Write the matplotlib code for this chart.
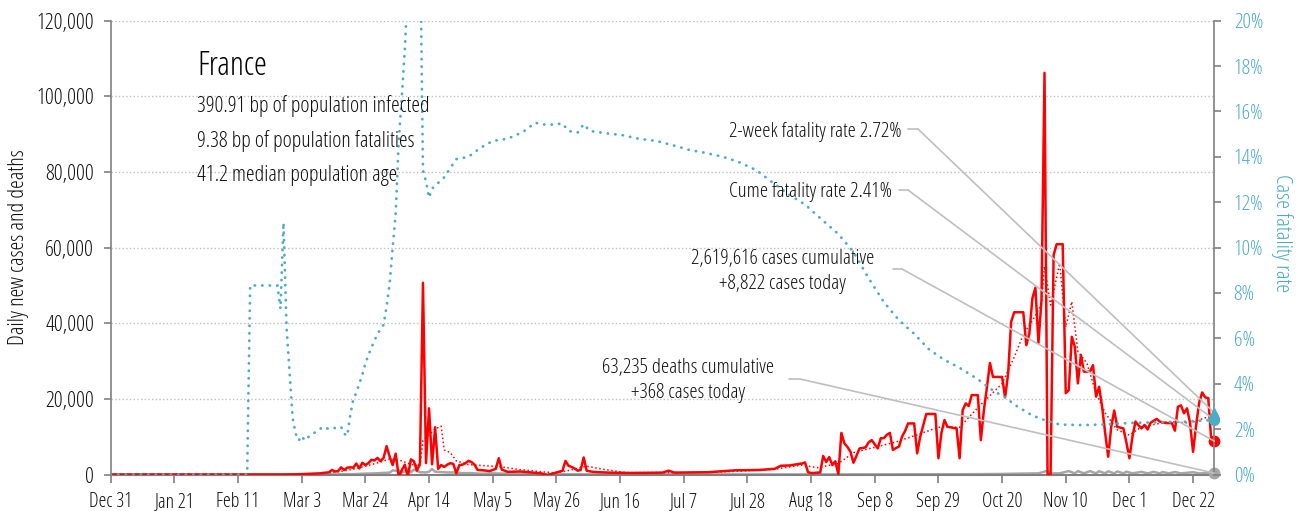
import matplotlib
matplotlib.use('Agg')
import matplotlib.pyplot as plt
import matplotlib.dates as mdates
import matplotlib.font_manager as fm
from matplotlib.font_manager import FontProperties
from matplotlib.ticker import FuncFormatter, MultipleLocator
import pandas as pd

RED = '#FF0000'
TEAL = '#4BACC6'
GRAY = '#A6A6A6'
LEADER = '#BFBFBF'
AXIS = '#808080'
TXT = '#111111'

# ---- data ----
# daily new cases, sparse until mid August
early_case_dates = ['2019-12-31', '2020-02-25', '2020-02-29', '2020-03-03', '2020-03-06', '2020-03-09',
                    '2020-03-11', '2020-03-12', '2020-03-13', '2020-03-14', '2020-03-15', '2020-03-16',
                    '2020-03-17', '2020-03-18', '2020-03-19', '2020-03-20', '2020-03-21', '2020-03-22',
                    '2020-03-23', '2020-03-24', '2020-03-25', '2020-03-26', '2020-03-27', '2020-03-28',
                    '2020-03-29', '2020-03-30', '2020-03-31', '2020-04-01', '2020-04-02', '2020-04-03',
                    '2020-04-04', '2020-04-05', '2020-04-06', '2020-04-07', '2020-04-08', '2020-04-09',
                    '2020-04-10', '2020-04-11', '2020-04-12', '2020-04-13', '2020-04-14', '2020-04-15',
                    '2020-04-16', '2020-04-17', '2020-04-18', '2020-04-19', '2020-04-20', '2020-04-21',
                    '2020-04-22', '2020-04-23', '2020-04-24', '2020-04-25', '2020-04-26', '2020-04-27',
                    '2020-04-28', '2020-04-29', '2020-04-30', '2020-05-02', '2020-05-04', '2020-05-06',
                    '2020-05-07', '2020-05-08', '2020-05-10', '2020-05-14', '2020-05-18', '2020-05-21',
                    '2020-05-23', '2020-05-25', '2020-05-28', '2020-05-29', '2020-05-30', '2020-05-31',
                    '2020-06-01', '2020-06-02', '2020-06-03', '2020-06-04', '2020-06-05', '2020-06-07',
                    '2020-06-12', '2020-06-20', '2020-06-30', '2020-07-02', '2020-07-04', '2020-07-15',
                    '2020-07-24', '2020-08-01', '2020-08-06', '2020-08-08', '2020-08-11', '2020-08-14']
early_case_vals = [0, 0, 40, 100, 200, 300,
                   500, 600, 1200, 800, 900, 1900,
                   1200, 1800, 1900, 1800, 2900, 1600,
                   3100, 2500, 3000, 3900, 3700, 4400,
                   3500, 4400, 7500, 4700, 2500, 5500,
                   -600, 1100, 2600, -600, 4000, 3500,
                   1000, 3000, 50700, 3000, 17500, 2700,
                   12500, 1500, 2500, 2000, 2600, 3000,
                   2800, 300, 2500, 2600, 3000, 3600,
                   3300, 2600, 1200, 1100, 900, 1500,
                   4300, 1300, 700, 800, 500, 300,
                   -200, 300, 1000, 3600, 2300, 2000,
                   1600, 1000, 1200, 4500, 1000, 700,
                   500, 400, 500, 1000, 500, 600,
                   1100, 1200, 1500, 2300, 2400, 2800]

# daily new cases, every day from Aug 15 to Dec 29
late_case_start = '2020-08-15'
late_case_vals = [2900, 3200, 600, 400, 400, 500, 500,
                  4900, 3300, 4600, 2500, 3500, 100, 11000,
                  8200, 7300, 6000, 3100, 5000, 6900, 7000,
                  7200, 8500, 9100, 8000, 6900, 9600, 9600,
                  10500, 11000, 6500, 7000, 7400, 10000, 11500,
                  13500, 13500, 13500, 5600, 10000, 13000, 16000,
                  16000, 16000, 16000, 4300, 11000, 14400, 12600,
                  12500, 12300, 12200, 4300, 17000, 18800, 18100,
                  21000, 21000, 21000, 9100, 17000, 23000, 29500,
                  25800, 25800, 25800, 25800, 20400, 26700, 40400,
                  42900, 42900, 42900, 42900, 34200, 37300, 46600,
                  49400, 34800, 46100, 106200, 0, 0, 58000,
                  60900, 60900, 60900, 21500, 22300, 36400, 33800,
                  24100, 31600, 27200, 27200, 27200, 28900, 20600,
                  23200, 17900, 11000, 4700, 12600, 16900, 12600,
                  12400, 12200, 8500, 4300, 10000, 14000, 13000,
                  12200, 13100, 11900, 13700, 14200, 14700, 14000,
                  13800, 13600, 13600, 13600, 11600, 17900, 18300,
                  16200, 17500, 13600, 6000, 13000, 19000, 21700,
                  20400, 20200, 9100, 8822]

# 7-day average of cases (dotted red)
avg_dates = ['2019-12-31', '2020-02-25', '2020-03-05', '2020-03-10', '2020-03-15', '2020-03-20',
             '2020-03-25', '2020-03-29', '2020-04-01', '2020-04-05', '2020-04-08', '2020-04-11',
             '2020-04-12', '2020-04-14', '2020-04-16', '2020-04-18', '2020-04-19', '2020-04-21',
             '2020-04-23', '2020-04-27', '2020-05-03', '2020-05-08', '2020-05-14', '2020-05-20',
             '2020-05-26', '2020-06-01', '2020-06-05', '2020-06-11', '2020-06-18', '2020-07-05',
             '2020-07-20', '2020-07-28', '2020-08-06', '2020-08-15', '2020-08-20', '2020-08-27',
             '2020-09-01', '2020-09-08', '2020-09-15', '2020-09-22', '2020-09-29', '2020-10-06',
             '2020-10-13', '2020-10-20', '2020-10-24', '2020-10-27', '2020-10-31', '2020-11-02',
             '2020-11-03', '2020-11-05', '2020-11-08', '2020-11-10', '2020-11-12', '2020-11-14',
             '2020-11-17', '2020-11-20', '2020-11-23', '2020-11-27', '2020-12-01', '2020-12-05',
             '2020-12-14', '2020-12-21', '2020-12-26', '2020-12-29']
avg_vals = [0, 0, 100, 300, 700, 1400,
            2400, 3300, 4100, 3600, 2700, 2300,
            9000, 10500, 12000, 12800, 6500, 5800,
            3600, 2600, 2300, 2000, 1300, 800,
            400, 1400, 2200, 1300, 500, 500,
            700, 1000, 1400, 2500, 1800, 2900,
            5800, 7200, 8600, 10500, 12500, 12500,
            18500, 24000, 31000, 37000, 42000, 45000,
            55000, 44800, 55800, 39000, 45700, 32600,
            29400, 21500, 16300, 11800, 10400, 12600,
            14000, 13600, 15000, 15200]

# daily deaths (grey)
death_dates = ['2019-12-31', '2020-03-05', '2020-03-12', '2020-03-17', '2020-03-20', '2020-03-24',
               '2020-03-27', '2020-03-30', '2020-04-01', '2020-04-02', '2020-04-03', '2020-04-04',
               '2020-04-05', '2020-04-06', '2020-04-07', '2020-04-08', '2020-04-09', '2020-04-10',
               '2020-04-11', '2020-04-13', '2020-04-14', '2020-04-15', '2020-04-16', '2020-04-18',
               '2020-04-20', '2020-04-22', '2020-04-25', '2020-04-28', '2020-05-01', '2020-05-05',
               '2020-05-08', '2020-05-12', '2020-05-15', '2020-05-22', '2020-05-28', '2020-06-05',
               '2020-06-20', '2020-07-10', '2020-07-30', '2020-08-20', '2020-09-05', '2020-09-20',
               '2020-10-01', '2020-10-10', '2020-10-20', '2020-10-27', '2020-11-01', '2020-11-04',
               '2020-11-05', '2020-11-08', '2020-11-11', '2020-11-13', '2020-11-14', '2020-11-16',
               '2020-11-18', '2020-11-20', '2020-11-21', '2020-11-23', '2020-11-24', '2020-11-26',
               '2020-11-27', '2020-11-29', '2020-11-30', '2020-12-02', '2020-12-05', '2020-12-07',
               '2020-12-09', '2020-12-11', '2020-12-12', '2020-12-14', '2020-12-16', '2020-12-18',
               '2020-12-22', '2020-12-24', '2020-12-29']
death_vals = [0, 0, 20, 60, 100, 240,
              300, 420, 500, 1100, 1000, 1100,
              500, 800, 1400, 550, 1300, 1000,
              600, 550, 750, 1450, 750, 640,
              550, 540, 380, 370, 220, 300,
              240, 350, 100, 70, 50, 40,
              20, 20, 15, 20, 30, 60,
              60, 80, 150, 250, 300, 1000,
              300, 300, 900, 300, 900, 300,
              900, 300, 850, 300, 850, 300,
              800, 300, 750, 300, 700, 300,
              700, 300, 650, 300, 650, 300,
              600, 300, 368]

# cumulative case fatality rate, % (teal dotted, right axis)
cfr_dates = ['2019-12-31', '2020-02-14', '2020-02-15', '2020-02-24', '2020-02-25', '2020-02-26',
             '2020-02-27', '2020-02-28', '2020-02-29', '2020-03-01', '2020-03-02', '2020-03-03',
             '2020-03-04', '2020-03-06', '2020-03-08', '2020-03-10', '2020-03-12', '2020-03-16',
             '2020-03-17', '2020-03-18', '2020-03-19', '2020-03-20', '2020-03-21', '2020-03-22',
             '2020-03-23', '2020-03-24', '2020-03-26', '2020-03-28', '2020-03-30', '2020-03-31',
             '2020-04-01', '2020-04-02', '2020-04-03', '2020-04-04', '2020-04-05', '2020-04-06',
             '2020-04-07', '2020-04-08', '2020-04-11', '2020-04-12', '2020-04-13', '2020-04-14',
             '2020-04-15', '2020-04-19', '2020-04-23', '2020-04-27', '2020-05-01', '2020-05-05',
             '2020-05-10', '2020-05-15', '2020-05-19', '2020-05-23', '2020-05-28', '2020-05-30',
             '2020-06-02', '2020-06-04', '2020-06-06', '2020-06-12', '2020-06-17', '2020-06-22',
             '2020-06-28', '2020-07-04', '2020-07-09', '2020-07-14', '2020-07-20', '2020-07-25',
             '2020-07-31', '2020-08-05', '2020-08-11', '2020-08-16', '2020-08-21', '2020-08-27',
             '2020-09-01', '2020-09-06', '2020-09-11', '2020-09-16', '2020-09-21', '2020-09-26',
             '2020-10-01', '2020-10-06', '2020-10-12', '2020-10-17', '2020-10-21', '2020-10-25',
             '2020-10-30', '2020-11-03', '2020-11-08', '2020-11-15', '2020-11-22', '2020-12-01',
             '2020-12-10', '2020-12-20', '2020-12-29']
cfr_vals = [0, 0, 8.33, 8.33, 7.3, 11.1,
            6.5, 4.5, 2.5, 1.8, 1.5, 1.7,
            1.5, 1.75, 1.9, 2.1, 2.0, 2.1,
            1.8, 1.7, 2.6, 3.3, 3.6, 4.0,
            4.4, 4.9, 5.6, 6.2, 6.6, 7.4,
            8.4, 10.0, 11.5, 14.7, 16.6, 18.7,
            21.5, 24.0, 24.0, 13.4, 12.9, 12.2,
            12.6, 13.1, 13.9, 14.0, 14.4, 14.7,
            14.8, 15.1, 15.5, 15.4, 15.47, 15.14,
            15.07, 15.44, 15.14, 15.03, 14.95, 14.8,
            14.7, 14.49, 14.3, 14.18, 14.0, 13.78,
            13.41, 12.9, 12.31, 11.9, 11.3, 10.6,
            9.8, 8.65, 7.6, 6.8, 6.2, 5.5,
            5.05, 4.7, 4.2, 3.7, 3.4, 3.0,
            2.6, 2.4, 2.2, 2.18, 2.2, 2.27,
            2.3, 2.33, 2.41]

two_week_cfr = 2.72
cume_cfr = 2.41
cases_cum = '2,619,616'
cases_today = 8822
deaths_cum = '63,235'
deaths_today = 368

# ---- build the series ----
case_dates = list(pd.to_datetime(early_case_dates)) + list(pd.date_range(late_case_start, periods=len(late_case_vals), freq='D'))
case_vals = early_case_vals + late_case_vals
last_day = case_dates[-1]
last_num = mdates.date2num(last_day)

# ---- font: a condensed grotesque if there is one, else Roboto ----
have = {(f.name, f.stretch) for f in fm.fontManager.ttflist}
names = {f.name for f in fm.fontManager.ttflist}
FAMILY, STRETCH = 'Roboto' if 'Roboto' in names else 'Liberation Sans', 'normal'
for fam, st in [('Roboto Condensed', 'normal'), ('Liberation Sans Narrow', 'normal'),
                ('Noto Sans', 'condensed'), ('Noto Sans', 'semi-condensed'),
                ('Open Sans', 'condensed'), ('Noto Sans Condensed', 'normal'),
                ('Open Sans Condensed', 'normal')]:
    if (fam, st) in have:
        FAMILY, STRETCH = fam, st
        break
plt.rcParams['font.family'] = [FAMILY, 'DejaVu Sans']
plt.rcParams['font.stretch'] = STRETCH

W, H = 1301, 511
fig = plt.figure(figsize=(W / 100, H / 100), dpi=100)
renderer = fig.canvas.get_renderer()
PROP100 = FontProperties(family=FAMILY, stretch=STRETCH, size=100)


def extent(s):
    w, h, d = renderer.get_text_width_height_descent(s, PROP100, ismath=False)
    return w, h - d, d


def fit_size(s, target_w, target_cap):
    # compromise between the reference width and the reference cap height
    w, _, _ = extent(s)
    _, cap, _ = extent('0H')
    size_w = 100 * target_w / w
    size_h = 100 * target_cap / cap
    return (size_w * size_h) ** 0.5


SAMPLE = f'2-week fatality rate {two_week_cfr:.2f}%'
FS_YTICK = fit_size('120,000', 63, 14.5)
FS_XTICK = fit_size('Sep 29', 47, 13.5)
FS_RTICK = fit_size('18%', 31.5, 14.5)
FS_BODY = fit_size('390.91 bp of population infected', 249, 15)
FS_NOTE = fit_size(SAMPLE, 187, 14)
FS_TITLE = fit_size('France', 72.5, 23)
FS_YLAB = fit_size('Daily new cases and deaths', 219, 14.5)
FS_RLAB = fit_size('Case fatality rate', 133, 14.5)

# x tick labels: keep the descenders inside the image (baseline near y = 505 px)
_, lp_asc, lp_desc = extent('lp')
XPAD = max(0.5, (511 - 1.5 - (lp_asc + lp_desc) * FS_XTICK / 100 - 480.5) * 0.72)

ax = fig.add_axes([110.7 / W, 1 - 474.5 / H, 1103.6 / W, 453.8 / H])
ax2 = ax.twinx()


def px(x, y):
    return x / W, 1 - y / H


ax.plot(pd.to_datetime(death_dates), death_vals, color=GRAY, lw=1.8, zorder=2)
ax.plot(case_dates, case_vals, color=RED, lw=1.8, zorder=3)
ax.plot(pd.to_datetime(avg_dates), avg_vals, color=RED, lw=1.1, ls=':', zorder=4)
ax.plot([last_day], [cases_today], 'o', color=RED, ms=7.5, zorder=6, clip_on=False)
ax.plot([last_day], [deaths_today], 'o', color=GRAY, ms=7.5, zorder=6, clip_on=False)

ax2.plot(pd.to_datetime(cfr_dates), cfr_vals, color=TEAL, lw=2.0, ls=(0, (0.1, 2.6)),
         dash_capstyle='round', zorder=3)
ax2.plot([last_day], [cume_cfr], 'o', color=TEAL, ms=7, zorder=6, clip_on=False)
ax2.plot([last_day], [two_week_cfr], '^', color=TEAL, ms=7, zorder=6, clip_on=False)

# axes
ax.set_xlim(pd.Timestamp('2019-12-31'), last_day)
ax.set_ylim(0, 120000)
ax2.set_ylim(0, 20)
ax.set_xticks(pd.date_range('2019-12-31', last_day, freq='21D'))
ax.xaxis.set_major_formatter(mdates.DateFormatter('%b %-d'))
ax.yaxis.set_major_locator(MultipleLocator(20000))
ax.yaxis.set_major_formatter(FuncFormatter(lambda v, p: f'{v:,.0f}'))
ax2.yaxis.set_major_locator(MultipleLocator(2))
ax2.yaxis.set_major_formatter(FuncFormatter(lambda v, p: f'{v:.0f}%'))

ax.yaxis.grid(True, ls=':', color='#BFBFBF', lw=1.0)
ax.set_axisbelow(True)

for a in (ax, ax2):
    a.spines['top'].set_visible(False)
ax.spines['right'].set_visible(False)
ax2.spines['left'].set_visible(False)
ax2.spines['bottom'].set_visible(False)
ax.spines['left'].set_color(AXIS)
ax.spines['left'].set_linewidth(1.2)
ax.spines['bottom'].set_color(AXIS)
ax.spines['bottom'].set_linewidth(1.5)
ax2.spines['right'].set_color(AXIS)
ax2.spines['right'].set_linewidth(1.2)

ax.tick_params(axis='x', direction='out', length=6, width=1.2, color=AXIS,
               labelsize=FS_XTICK, labelcolor=TXT, pad=XPAD)
ax.tick_params(axis='y', direction='out', length=5, width=1.2, color=AXIS,
               labelsize=FS_YTICK, labelcolor=TXT, pad=7)
ax2.tick_params(axis='y', direction='out', length=5, width=1.2, color=AXIS,
                labelsize=FS_RTICK, labelcolor=TEAL, pad=9)

fig.text(*px(19, 247), 'Daily new cases and deaths', rotation=90, ha='center', va='center',
         fontsize=FS_YLAB, color=TXT)
fig.text(*px(1282, 233), 'Case fatality rate', rotation=270, ha='center', va='center',
         fontsize=FS_RLAB, color=TEAL)

# country summary block
fig.text(*px(197, 75), 'France', fontsize=FS_TITLE, color='black', va='baseline')
fig.text(*px(197, 112), '390.91 bp of population infected', fontsize=FS_BODY, color=TXT, va='baseline')
fig.text(*px(197, 146.5), '9.38 bp of population fatalities', fontsize=FS_BODY, color=TXT, va='baseline')
fig.text(*px(197, 181), '41.2 median population age', fontsize=FS_BODY, color=TXT, va='baseline')

# callouts
fig.text(*px(902, 136.5), SAMPLE, fontsize=FS_NOTE, color=TXT, ha='right', va='baseline')
fig.text(*px(892, 196.5), f'Cume fatality rate {cume_cfr:.2f}%', fontsize=FS_NOTE, color=TXT,
         ha='right', va='baseline')
fig.text(*px(782.5, 264), f'{cases_cum} cases cumulative', fontsize=FS_NOTE, color=TXT,
         ha='center', va='baseline')
fig.text(*px(782.5, 289.5), f'+{cases_today:,} cases today', fontsize=FS_NOTE, color=TXT,
         ha='center', va='baseline')
fig.text(*px(688, 373.5), f'{deaths_cum} deaths cumulative', fontsize=FS_NOTE, color=TXT,
         ha='center', va='baseline')
fig.text(*px(688, 398), f'+{deaths_today:,} cases today', fontsize=FS_NOTE, color=TXT,
         ha='center', va='baseline')

leader = dict(arrowstyle='-', color=LEADER, lw=1.2, shrinkA=0, shrinkB=0)
callouts = [
    ((908, 129), (918, 129), ax2, two_week_cfr),
    ((899, 190), (908, 190), ax2, cume_cfr),
    ((893, 269), (902, 269), ax, cases_today),
    ((789, 379), (800, 379), ax, deaths_today),
]
for start, corner, target_ax, val in callouts:
    s = (start[0], H - start[1])
    c = (corner[0], H - corner[1])
    ax2.annotate('', xy=c, xycoords='figure pixels', xytext=s, textcoords='figure pixels',
                 arrowprops=leader, annotation_clip=False)
    ax2.annotate('', xy=(last_num, val), xycoords=target_ax.transData, xytext=c,
                 textcoords='figure pixels', arrowprops=leader, annotation_clip=False)

fig.savefig('out.png', dpi=100)
